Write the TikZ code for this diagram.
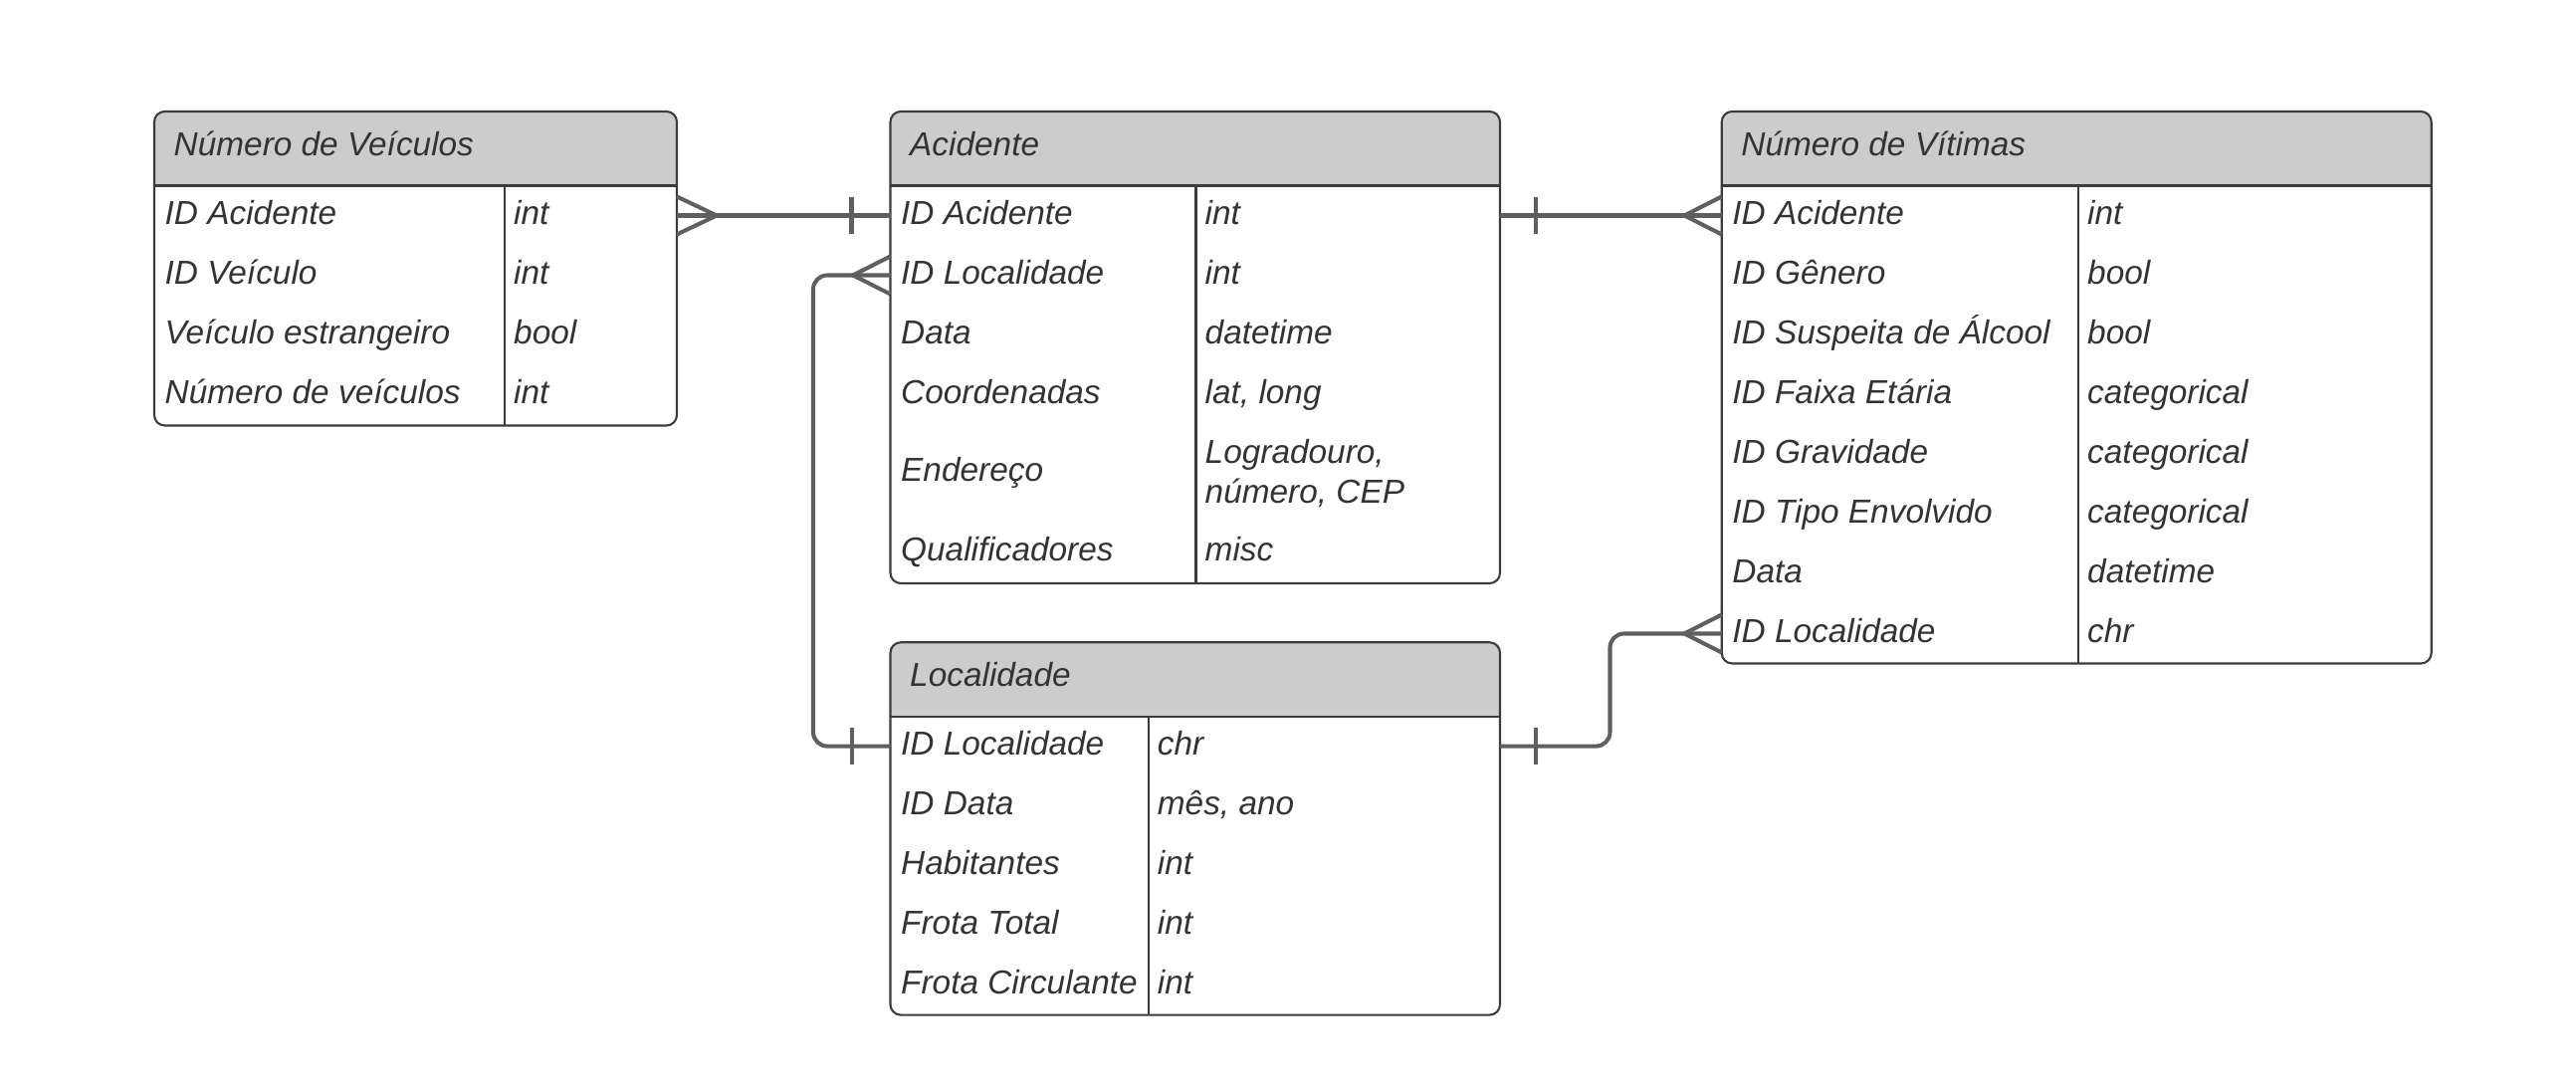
\documentclass[tikz,border=0pt]{standalone}
\usepackage{fontspec}
\setmainfont{Liberation Sans}
\usetikzlibrary{backgrounds}
\definecolor{headgray}{HTML}{CCCCCC}
\definecolor{linegray}{HTML}{5F5F5F}
\definecolor{txtgray}{HTML}{333333}
\definecolor{framegray}{HTML}{3C3C3C}

\begin{document}
\begin{tikzpicture}[entity/.style = {draw=framegray, line width=0.6pt, rounded corners=3pt, inner sep=0pt, outer sep=0pt},
        sep/.style = {draw=framegray, line width=0.6pt},
        cell/.style = {anchor=west, inner sep=0pt, text=txtgray, font=\fontsize{9.5}{11.2}\selectfont\itshape, text height=7.6pt, text depth=2.5pt},
        relline/.style = {draw=linegray, line width=1.15pt}]
        \useasboundingbox (0,0) rectangle (25.88,-10.97);

        % Numero de Veiculos
        \node[entity, minimum width=5.25cm, minimum height=3.155cm] (nv) at (4.175,-2.6975) {};
        \node[cell] (nvt) at (1.74,-1.48) {Número de Veículos};
        \draw[sep] (1.55,-1.865) -- (6.80,-1.865);
        \draw[sep] (5.07,-1.865) -- (5.07,-4.275);
        \node[cell] (nv1) at (1.65,-2.165) {ID Acidente};
        \node[cell] (nv1t) at (5.155,-2.165) {int};
        \node[cell] (nv2) at (1.65,-2.765) {ID Veículo};
        \node[cell] (nv2t) at (5.155,-2.765) {int};
        \node[cell] (nv3) at (1.65,-3.365) {Veículo estrangeiro};
        \node[cell] (nv3t) at (5.155,-3.365) {bool};
        \node[cell] (nv4) at (1.65,-3.965) {Número de veículos};
        \node[cell] (nv4t) at (5.155,-3.965) {int};

        % Acidente
        \node[entity, minimum width=6.125cm, minimum height=4.74cm] (acid) at (12.0075,-3.49) {};
        \node[cell] (act) at (9.135,-1.48) {Acidente};
        \draw[sep] (8.945,-1.865) -- (15.07,-1.865);
        \draw[sep] (12.015,-1.865) -- (12.015,-5.86);
        \node[cell] (ac1) at (9.045,-2.165) {ID Acidente};
        \node[cell] (ac1t) at (12.10,-2.165) {int};
        \node[cell] (ac2) at (9.045,-2.765) {ID Localidade};
        \node[cell] (ac2t) at (12.10,-2.765) {int};
        \node[cell] (ac3) at (9.045,-3.365) {Data};
        \node[cell] (ac3t) at (12.10,-3.365) {datetime};
        \node[cell] (ac4) at (9.045,-3.965) {Coordenadas};
        \node[cell] (ac4t) at (12.10,-3.965) {lat, long};
        \node[cell] (ac5) at (9.045,-4.75) {Endereço};
        \node[cell, text height=, text depth=, align=left] (ac5t) at (12.10,-4.755) {Logradouro,\\número, CEP};
        \node[cell] (ac6) at (9.045,-5.545) {Qualificadores};
        \node[cell] (ac6t) at (12.10,-5.545) {misc};

        % Numero de Vitimas
        \node[entity, minimum width=7.13cm, minimum height=5.545cm] (vit) at (20.862,-3.8925) {};
        \node[cell] (vit0) at (17.487,-1.48) {Número de Vítimas};
        \draw[sep] (17.297,-1.865) -- (24.427,-1.865);
        \draw[sep] (20.88,-1.865) -- (20.88,-6.665);
        \node[cell] (vi1) at (17.397,-2.165) {ID Acidente};
        \node[cell] (vi1t) at (20.965,-2.165) {int};
        \node[cell] (vi2) at (17.397,-2.765) {ID Gênero};
        \node[cell] (vi2t) at (20.965,-2.765) {bool};
        \node[cell] (vi3) at (17.397,-3.365) {ID Suspeita de Álcool};
        \node[cell] (vi3t) at (20.965,-3.365) {bool};
        \node[cell] (vi4) at (17.397,-3.965) {ID Faixa Etária};
        \node[cell] (vi4t) at (20.965,-3.965) {categorical};
        \node[cell] (vi5) at (17.397,-4.565) {ID Gravidade};
        \node[cell] (vi5t) at (20.965,-4.565) {categorical};
        \node[cell] (vi6) at (17.397,-5.165) {ID Tipo Envolvido};
        \node[cell] (vi6t) at (20.965,-5.165) {categorical};
        \node[cell] (vi7) at (17.397,-5.765) {Data};
        \node[cell] (vi7t) at (20.965,-5.765) {datetime};
        \node[cell] (vi8) at (17.397,-6.365) {ID Localidade};
        \node[cell] (vi8t) at (20.965,-6.365) {chr};

        % Localidade
        \node[entity, minimum width=6.125cm, minimum height=3.743cm] (loc) at (12.0075,-8.3245) {};
        \node[cell] (lot) at (9.135,-6.81) {Localidade};
        \draw[sep] (8.945,-7.196) -- (15.07,-7.196);
        \draw[sep] (11.537,-7.196) -- (11.537,-10.196);
        \node[cell] (lo1) at (9.045,-7.496) {ID Localidade};
        \node[cell] (lo1t) at (11.622,-7.496) {chr};
        \node[cell] (lo2) at (9.045,-8.096) {ID Data};
        \node[cell] (lo2t) at (11.622,-8.096) {mês, ano};
        \node[cell] (lo3) at (9.045,-8.696) {Habitantes};
        \node[cell] (lo3t) at (11.622,-8.696) {int};
        \node[cell] (lo4) at (9.045,-9.296) {Frota Total};
        \node[cell] (lo4t) at (11.622,-9.296) {int};
        \node[cell] (lo5) at (9.045,-9.896) {Frota Circulante};
        \node[cell] (lo5t) at (11.622,-9.896) {int};

        % header fills
        \begin{scope}[on background layer]
        \fill[headgray] (nv.west |- 0,-1.865) [rounded corners=3pt] -- (nv.north west) -- (nv.north east) [sharp corners] -- (nv.east |- 0,-1.865) -- cycle;
        \fill[headgray] (acid.west |- 0,-1.865) [rounded corners=3pt] -- (acid.north west) -- (acid.north east) [sharp corners] -- (acid.east |- 0,-1.865) -- cycle;
        \fill[headgray] (vit.west |- 0,-1.865) [rounded corners=3pt] -- (vit.north west) -- (vit.north east) [sharp corners] -- (vit.east |- 0,-1.865) -- cycle;
        \fill[headgray] (loc.west |- 0,-7.196) [rounded corners=3pt] -- (loc.north west) -- (loc.north east) [sharp corners] -- (loc.east |- 0,-7.196) -- cycle;
        \end{scope}

        % relations
        \draw[relline] (nv.east |- nv1) -- (acid.west |- ac1);
        \draw[relline] (nv.east |- nv1) ++(0,0.19) -- ++(0.40,-0.19) -- ++(-0.40,-0.19);
        \draw[relline] (acid.west |- ac1) ++(-0.39,0.185) -- ++(0,-0.37);

        \draw[relline, rounded corners=4pt] (acid.west |- ac2) -- ++(-0.775,0) |- (loc.west |- lo1);
        \draw[relline] (acid.west |- ac2) ++(0,0.19) -- ++(-0.375,-0.19) -- ++(0.375,-0.19);
        \draw[relline] (loc.west |- lo1) ++(-0.385,0.185) -- ++(0,-0.37);

        \draw[relline] (acid.east |- ac1) -- (vit.west |- vi1);
        \draw[relline] (acid.east |- ac1) ++(0.36,0.185) -- ++(0,-0.37);
        \draw[relline] (vit.west |- vi1) ++(0,0.19) -- ++(-0.375,-0.19) -- ++(0.375,-0.19);

        \draw[relline, rounded corners=4pt] (loc.east |- lo1) -- ++(1.105,0) |- (vit.west |- vi8);
        \draw[relline] (loc.east |- lo1) ++(0.36,0.185) -- ++(0,-0.37);
        \draw[relline] (vit.west |- vi8) ++(0,0.19) -- ++(-0.375,-0.19) -- ++(0.375,-0.19);
\end{tikzpicture}
\end{document}
